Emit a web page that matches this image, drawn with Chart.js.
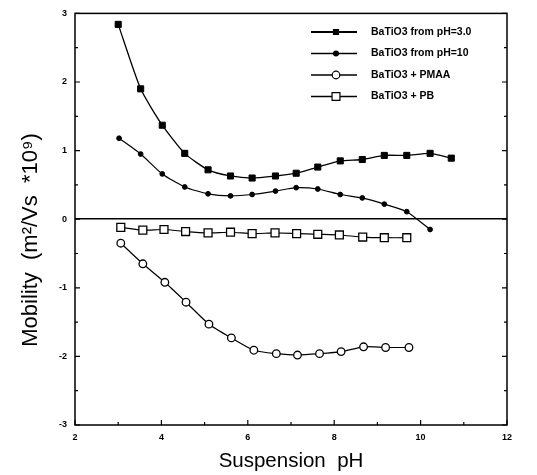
<!DOCTYPE html>
<html>
<head>
<meta charset="utf-8">
<script src="https://cdn.jsdelivr.net/npm/chart.js@4/dist/chart.umd.min.js"></script>
<style>
html,body{margin:0;padding:0;background:#fff;}
#wrap{width:537px;height:475px;}
</style>
</head>
<body>
<div id="wrap"><canvas id="c" width="537" height="475"></canvas></div>
<script>
// ---- data ----
const seriesNames = ["BaTiO3 from pH=3.0", "BaTiO3 from pH=10", "BaTiO3 + PMAA", "BaTiO3 + PB"];

const ph30X = [3.0, 3.52, 4.02, 4.54, 5.08, 5.6, 6.1, 6.64, 7.12, 7.62, 8.14, 8.65, 9.16, 9.68, 10.22, 10.71];
const ph30Y = [2.84, 1.90, 1.37, 0.96, 0.72, 0.63, 0.60, 0.63, 0.67, 0.76, 0.85, 0.87, 0.93, 0.93, 0.96, 0.89];

const ph10X = [3.02, 3.52, 4.02, 4.54, 5.08, 5.6, 6.1, 6.64, 7.12, 7.62, 8.14, 8.65, 9.16, 9.68, 10.22];
const ph10Y = [1.18, 0.95, 0.66, 0.47, 0.37, 0.34, 0.36, 0.41, 0.46, 0.44, 0.36, 0.31, 0.22, 0.11, -0.15];

const pmaaX = [3.06, 3.57, 4.08, 4.57, 5.1, 5.62, 6.14, 6.66, 7.15, 7.66, 8.16, 8.68, 9.19, 9.73];
const pmaaY = [-0.35, -0.65, -0.92, -1.21, -1.53, -1.73, -1.91, -1.96, -1.98, -1.96, -1.93, -1.86, -1.87, -1.87];

const pbX = [3.06, 3.57, 4.06, 4.56, 5.08, 5.6, 6.1, 6.63, 7.13, 7.62, 8.12, 8.66, 9.16, 9.68];
const pbY = [-0.12, -0.16, -0.15, -0.18, -0.20, -0.19, -0.21, -0.20, -0.21, -0.22, -0.23, -0.26, -0.27, -0.27];

const xTicks = [2, 4, 6, 8, 10, 12];
const yTicks = [-3, -2, -1, 0, 1, 2, 3];

const xTitle = "Suspension  pH";
const yTitle = "Mobility  (m\u00B2/Vs  *10\u2079)";

function pts(xs, ys){ return xs.map((x,i)=>({x:x, y:ys[i]})); }

const tickFont = {family: "'Liberation Sans', Arial, sans-serif", size: 9, weight: 'bold'};

// frame, inward ticks, y title, legend
const framePlugin = {
  id: 'framePlugin',
  afterDraw(chart){
    const {ctx, chartArea:a, scales} = chart;
    const xs = scales.x, ys = scales.y;
    ctx.save();
    ctx.strokeStyle = '#000';
    ctx.lineWidth = 1.5;
    ctx.strokeRect(a.left, a.top, a.right - a.left, a.bottom - a.top);
    ctx.lineWidth = 1.2;
    for (let v = 2; v <= 12; v += 1) {
      const px = xs.getPixelForValue(v);
      const len = (v % 2 === 0) ? 5 : 3;
      ctx.beginPath();
      ctx.moveTo(px, a.bottom); ctx.lineTo(px, a.bottom - len);
      ctx.stroke();
    }
    for (let v = -3; v <= 3.001; v += 0.5) {
      const py = ys.getPixelForValue(v);
      const len = (Math.abs(v % 1) < 1e-6) ? 5 : 3;
      ctx.beginPath();
      ctx.moveTo(a.left, py); ctx.lineTo(a.left + len, py);
      ctx.moveTo(a.right, py); ctx.lineTo(a.right - len, py);
      ctx.stroke();
    }
    // y axis title
    ctx.save();
    ctx.translate(37, 240);
    ctx.rotate(-Math.PI/2);
    ctx.fillStyle = '#000';
    ctx.font = "22px 'Liberation Sans', Arial, sans-serif";
    ctx.textAlign = 'center';
    ctx.textBaseline = 'alphabetic';
    ctx.fillText(yTitle, 0, 0);
    ctx.restore();
    // legend
    const lx0 = 311, lx1 = 357, mx = 336, tx = 371;
    const rows = [32, 53.5, 75, 96.5];
    chart.data.datasets.forEach((ds, i) => {
      const y = rows[i];
      ctx.beginPath();
      ctx.lineWidth = i === 0 ? 2 : 1.3;
      ctx.strokeStyle = '#000';
      ctx.moveTo(lx0, y); ctx.lineTo(lx1, y);
      ctx.stroke();
      const r = ds.legendRadius;
      ctx.fillStyle = ds.pointBackgroundColor;
      ctx.strokeStyle = '#000';
      ctx.lineWidth = 1.2;
      ctx.beginPath();
      if (ds.pointStyle === 'rect') {
        const s = r * Math.SQRT1_2;
        ctx.rect(mx - s, y - s, 2*s, 2*s);
      } else {
        ctx.arc(mx, y, r, 0, Math.PI*2);
      }
      ctx.fill(); ctx.stroke();
      ctx.fillStyle = '#000';
      ctx.font = "bold 10.5px 'Liberation Sans', Arial, sans-serif";
      ctx.textBaseline = 'middle';
      ctx.textAlign = 'left';
      ctx.fillText(ds.label, tx, y);
    });
    ctx.restore();
  }
};

new Chart(document.getElementById('c'), {
  type: 'line',
  data: {
    datasets: [
      {label: seriesNames[0], data: pts(ph30X, ph30Y), borderColor:'#000', borderWidth:1.3,
       pointStyle:'rect', pointRadius:4.3, pointBackgroundColor:'#000', pointBorderColor:'#000', pointBorderWidth:1,
       tension:0.2, legendRadius:3.5},
      {label: seriesNames[1], data: pts(ph10X, ph10Y), borderColor:'#000', borderWidth:1.2,
       pointStyle:'circle', pointRadius:2.4, pointBackgroundColor:'#000', pointBorderColor:'#000', pointBorderWidth:1,
       tension:0.2, legendRadius:2.4},
      {label: seriesNames[2], data: pts(pmaaX, pmaaY), borderColor:'#000', borderWidth:1.2,
       pointStyle:'circle', pointRadius:3.8, pointBackgroundColor:'#fff', pointBorderColor:'#000', pointBorderWidth:1.3,
       tension:0.2, legendRadius:3.8},
      {label: seriesNames[3], data: pts(pbX, pbY), borderColor:'#000', borderWidth:1.2,
       pointStyle:'rect', pointRadius:5.6, pointBackgroundColor:'#fff', pointBorderColor:'#000', pointBorderWidth:1.3,
       tension:0.2, legendRadius:5.6}
    ]
  },
  options: {
    responsive: false,
    animation: false,
    devicePixelRatio: 1,
    layout: {padding: {top: 10, right: 30, left: 0, bottom: 0}},
    plugins: {legend: {display: false}, tooltip: {enabled: false}},
    elements: {line: {fill: false}},
    scales: {
      x: {
        type: 'linear', min: 2, max: 12,
        afterBuildTicks: s => { s.ticks = xTicks.map(v => ({value: v})); },
        afterFit: s => { s.height = 50; },
        grid: {display: false, drawTicks: false},
        border: {display: false},
        ticks: {color:'#000', font: tickFont, padding: 7, maxRotation: 0, autoSkip: false},
        title: {display: true, text: xTitle, color:'#000',
                font: {family: "'Liberation Sans', Arial, sans-serif", size: 20.5}, padding: {top: 0, bottom: 1}}
      },
      y: {
        type: 'linear', min: -3, max: 3,
        afterBuildTicks: s => { s.ticks = yTicks.map(v => ({value: v})); },
        afterFit: s => { s.width = 75; },
        grid: {drawTicks: false, lineWidth: 1.5,
               color: c => (c.tick && c.tick.value === 0) ? '#000' : 'rgba(0,0,0,0)'},
        border: {display: false},
        ticks: {color:'#000', font: tickFont, padding: 8, autoSkip: false},
        title: {display: false}
      }
    }
  },
  plugins: [framePlugin]
});
</script>
</body>
</html>
